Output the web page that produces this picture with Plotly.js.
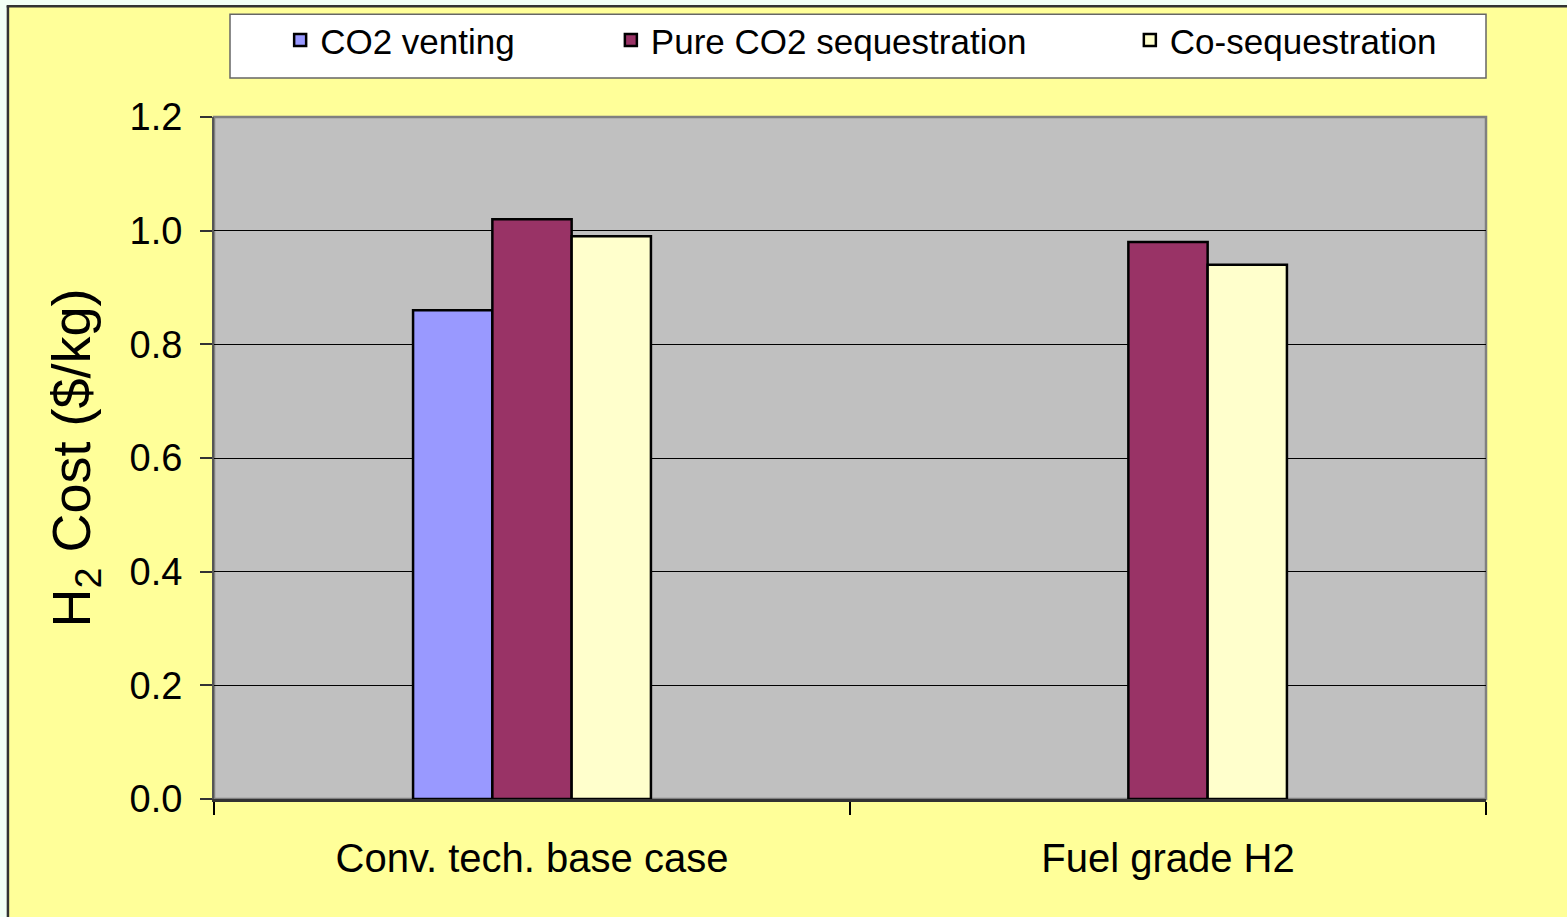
<!DOCTYPE html>
<html>
<head>
<meta charset="utf-8">
<script src="https://cdn.plot.ly/plotly-3.0.1.min.js"></script>
<style>html,body{margin:0;padding:0;background:#FFFF99;}#chart{width:1567px;height:917px;}</style>
</head>
<body>
<div id="chart"></div>
<script>
const categories = ["Conv. tech. base case", "Fuel grade H2"];
const seriesNames = ["CO2 venting", "Pure CO2 sequestration", "Co-sequestration"];
const ventingValues = [0.86, null];
const pureSeqValues = [1.02, 0.98];
const coSeqValues = [0.99, 0.94];
const yTickValues = [0, 0.2, 0.4, 0.6, 0.8, 1.0, 1.2];
const yTickLabels = ["0.0", "0.2", "0.4", "0.6", "0.8", "1.0", "1.2"];
const seriesColors = ["#9999FF", "#993366", "#FFFFCC"];

const FONT = "Liberation Sans, Arial, sans-serif";
const allValues = [ventingValues, pureSeqValues, coSeqValues];
const legendIds = ["legend", "legend2", "legend3"];

const traces = seriesNames.map((name, i) => ({
  type: "bar",
  name: name,
  x: categories,
  y: allValues[i],
  legend: legendIds[i],
  marker: { color: seriesColors[i], line: { color: "#000000", width: 2.5 } },
  hoverinfo: "x+y+name"
}));

const legendX = [0.052, 0.312, 0.72];
function mkLegend(x) {
  return {
    x: x, xanchor: "left", y: 1.111, yanchor: "middle",
    orientation: "h", bgcolor: "rgba(0,0,0,0)", borderwidth: 0,
    font: { family: FONT, size: 35, color: "#000" }
  };
}

const layout = {
  width: 1567, height: 917,
  margin: { l: 214, r: 81, t: 116, b: 118, pad: 0 },
  paper_bgcolor: "#FFFF99",
  plot_bgcolor: "#C0C0C0",
  barmode: "group",
  bargap: 0.626,
  bargroupgap: 0,
  showlegend: true,
  legend: mkLegend(legendX[0]),
  legend2: mkLegend(legendX[1]),
  legend3: mkLegend(legendX[2]),
  xaxis: {
    type: "category",
    tickson: "boundaries",
    ticks: "outside", ticklen: 13, tickwidth: 1.5, tickcolor: "#000",
    showline: true, linecolor: "#333", linewidth: 2.5,
    showgrid: false,
    tickfont: { family: FONT, size: 40, color: "#000" },
    ticklabelstandoff: 22
  },
  yaxis: {
    range: [0, 1.2],
    tickvals: yTickValues, ticktext: yTickLabels,
    ticks: "outside", ticklen: 12, tickwidth: 1.5, tickcolor: "#333",
    showline: true, linecolor: "#555", linewidth: 2,
    showgrid: true, gridcolor: "#000", gridwidth: 1,
    zeroline: false,
    tickfont: { family: FONT, size: 38, color: "#000" },
    ticklabelstandoff: 10,
    title: { text: "H<sub>2</sub> Cost ($/kg)", font: { family: FONT, size: 54, color: "#000" }, standoff: 22 }
  },
  shapes: [
    { type: "rect", xref: "paper", yref: "paper", x0: -0.1685, x1: -0.1625, y0: -0.3, y1: 1.2, fillcolor: "#F2FFF6", line: { width: 0 }, layer: "below" },
    { type: "rect", xref: "paper", yref: "paper", x0: -0.1685, x1: 1.1, y0: 1.1640, y1: 1.2, fillcolor: "#F2FFF6", line: { width: 0 }, layer: "below" },
    { type: "line", xref: "paper", yref: "paper", x0: -0.1620, x1: -0.1620, y0: -0.3, y1: 1.1632, line: { color: "#333", width: 2.5 }, layer: "below" },
    { type: "line", xref: "paper", yref: "paper", x0: -0.1630, x1: 1.1, y0: 1.1625, y1: 1.1625, line: { color: "#333", width: 2.5 }, layer: "below" },
    { type: "rect", xref: "paper", yref: "paper", x0: 0.01258, x1: 1.0, y0: 1.0571, y1: 1.1508, fillcolor: "#FFFFFF", line: { color: "#666", width: 1.5 }, layer: "below" },
    { type: "rect", xref: "paper", yref: "paper", x0: 0, x1: 1, y0: 0, y1: 1, fillcolor: "rgba(0,0,0,0)", line: { color: "#808080", width: 2.5 }, layer: "below" }
  ]
};

Plotly.newPlot("chart", traces, layout, { displayModeBar: false, responsive: false });
</script>
</body>
</html>
